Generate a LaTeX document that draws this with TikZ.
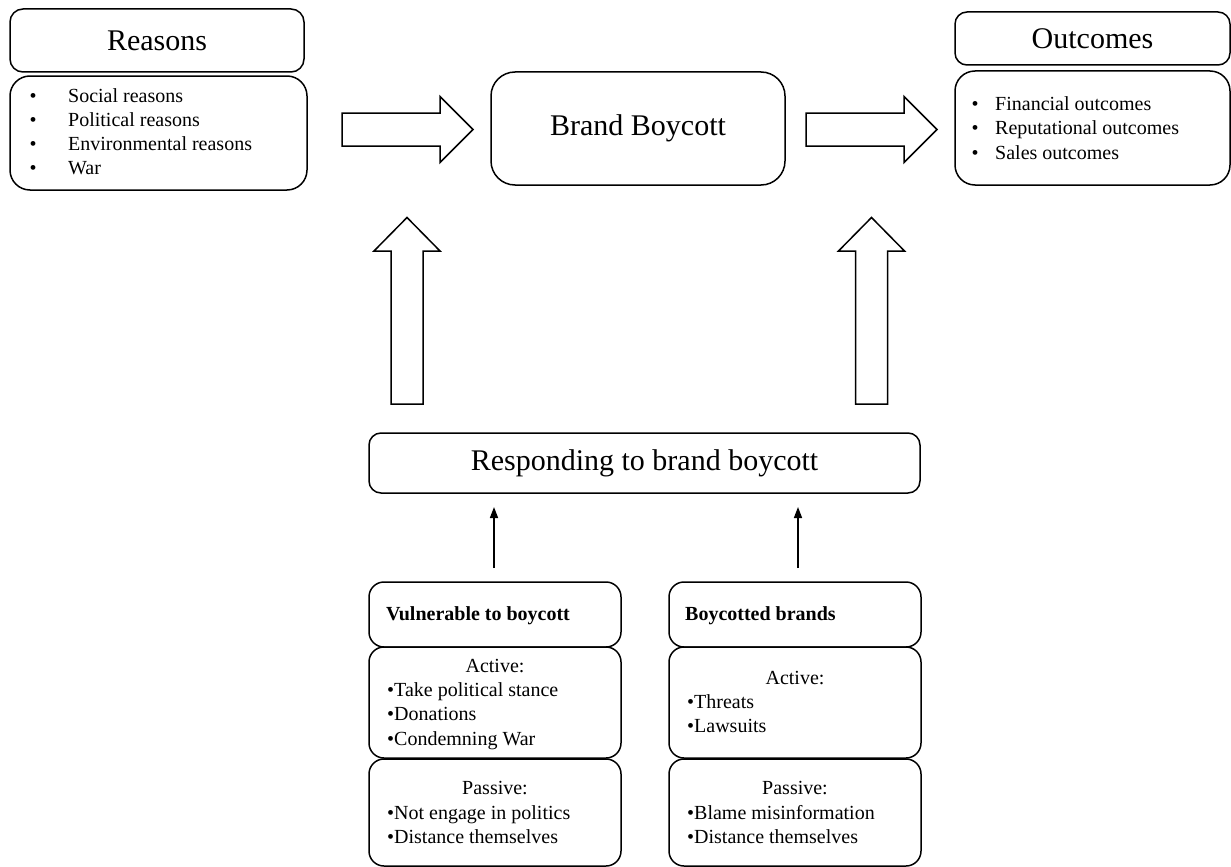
\documentclass[tikz,border=0pt]{standalone}
\usepackage{fontspec}
\setmainfont{Liberation Serif}
\usetikzlibrary{arrows.meta}
\begin{document}
\begin{tikzpicture}[x=1pt,y=-1pt,
  box/.style={draw, line width=1.5pt, inner sep=0pt, outer sep=0pt},
  headline/.style={font=\fontsize{30}{36}\selectfont},
  body/.style={font=\fontsize{20}{24}\selectfont, align=left, inner sep=0pt, anchor=base west},
  bodyc/.style={font=\fontsize{20}{24}\selectfont, inner sep=0pt, anchor=base},
  blockarrow/.style={draw, line width=1.5pt, fill=white, line join=miter},
  smallarrow/.style={line width=1.5pt, -{Triangle[length=11pt,width=8pt]}}
]
\useasboundingbox (0,0) rectangle (1231,867);

% top row: reasons, brand boycott, outcomes
% (multi-line text nodes are placed by the baseline of their last line)
\node[box, rounded corners=13pt, minimum width=294pt, minimum height=63pt, headline] (reasonsT) at (157,40.5) {Reasons};
\node[box, rounded corners=20pt, minimum width=297pt, minimum height=114pt] (reasonsL) at (158.5,133) {};
\node[body] (reasonsTxt) at (29.5,174) {\makebox[38.5pt][l]{•}Social reasons\\
  \makebox[38.5pt][l]{•}Political reasons\\
  \makebox[38.5pt][l]{•}Environmental reasons\\
  \makebox[38.5pt][l]{•}War};

\node[box, rounded corners=24pt, minimum width=294pt, minimum height=113pt, headline] (brand) at (638,128.5) {Brand Boycott};

\node[box, rounded corners=12pt, minimum width=275pt, minimum height=53pt, headline] (outT) at (1092.5,38.5) {Outcomes};
\node[box, rounded corners=20pt, minimum width=275pt, minimum height=114pt] (outL) at (1092.5,128) {};
\node[body, font=\fontsize{20}{24.5}\selectfont] (outTxt) at (971.5,159) {\makebox[23.5pt][l]{•}Financial outcomes\\
  \makebox[23.5pt][l]{•}Reputational outcomes\\
  \makebox[23.5pt][l]{•}Sales outcomes};

% block arrows
\draw[blockarrow] (342,113) -- (440,113) -- (440,96.5) -- (473,129.5) -- (440,162.5) -- (440,146) -- (342,146) -- cycle;
\draw[blockarrow] (806,113) -- (904,113) -- (904,96.5) -- (937,129.5) -- (904,162.5) -- (904,146) -- (806,146) -- cycle;
\draw[blockarrow] (391,404) -- (391,251) -- (374,251) -- (407,217.5) -- (440,251) -- (423,251) -- (423,404) -- cycle;
\draw[blockarrow] (855.5,404) -- (855.5,251) -- (838.5,251) -- (871.5,217.5) -- (904.5,251) -- (887.5,251) -- (887.5,404) -- cycle;

% responding
\node[box, rounded corners=12pt, minimum width=551pt, minimum height=60pt, headline] (resp) at (644.5,463) {Responding to brand boycott};

% lower left column
\node[box, rounded corners=15pt, minimum width=252pt, minimum height=65pt] (vulT) at (495,614.5) {};
\node[body, font=\fontsize{20}{24}\selectfont\bfseries] (vulTxt) at (386,620) {Vulnerable to boycott};
\node[box, rounded corners=15pt, minimum width=252pt, minimum height=111pt] (vulA) at (495,702.5) {};
\node[bodyc] (vulAh) at (495,672) {Active:};
\node[body, font=\fontsize{20}{24.5}\selectfont] (vulAtxt) at (387,745) {•Take political stance\\•Donations\\•Condemning War};
\node[box, rounded corners=15pt, minimum width=252pt, minimum height=107pt] (vulP) at (495,812.5) {};
\node[bodyc] (vulPh) at (495,794) {Passive:};
\node[body, font=\fontsize{20}{24.5}\selectfont] (vulPtxt) at (387,843.5) {•Not engage in politics\\•Distance themselves};

% lower right column
\node[box, rounded corners=15pt, minimum width=252pt, minimum height=65pt] (boyT) at (795,614.5) {};
\node[body, font=\fontsize{20}{24}\selectfont\bfseries] (boyTxt) at (685,620) {Boycotted brands};
\node[box, rounded corners=15pt, minimum width=252pt, minimum height=111pt] (boyA) at (795,702.5) {};
\node[bodyc] (boyAh) at (795,684) {Active:};
\node[body, font=\fontsize{20}{24.5}\selectfont] (boyAtxt) at (687,732.5) {•Threats\\•Lawsuits};
\node[box, rounded corners=15pt, minimum width=252pt, minimum height=107pt] (boyP) at (795,812.5) {};
\node[bodyc] (boyPh) at (795,794) {Passive:};
\node[body, font=\fontsize{20}{24.5}\selectfont] (boyPtxt) at (687,843.5) {•Blame misinformation\\•Distance themselves};

% thin arrows up to the response box
\draw[smallarrow] ([xshift=-1pt,yshift=14pt]vulT.north) -- ([xshift=-1pt,yshift=-14pt]vulT.north |- resp.south);
\draw[smallarrow] ([xshift=3pt,yshift=14pt]boyT.north) -- ([xshift=3pt,yshift=-14pt]boyT.north |- resp.south);
\end{tikzpicture}
\end{document}
